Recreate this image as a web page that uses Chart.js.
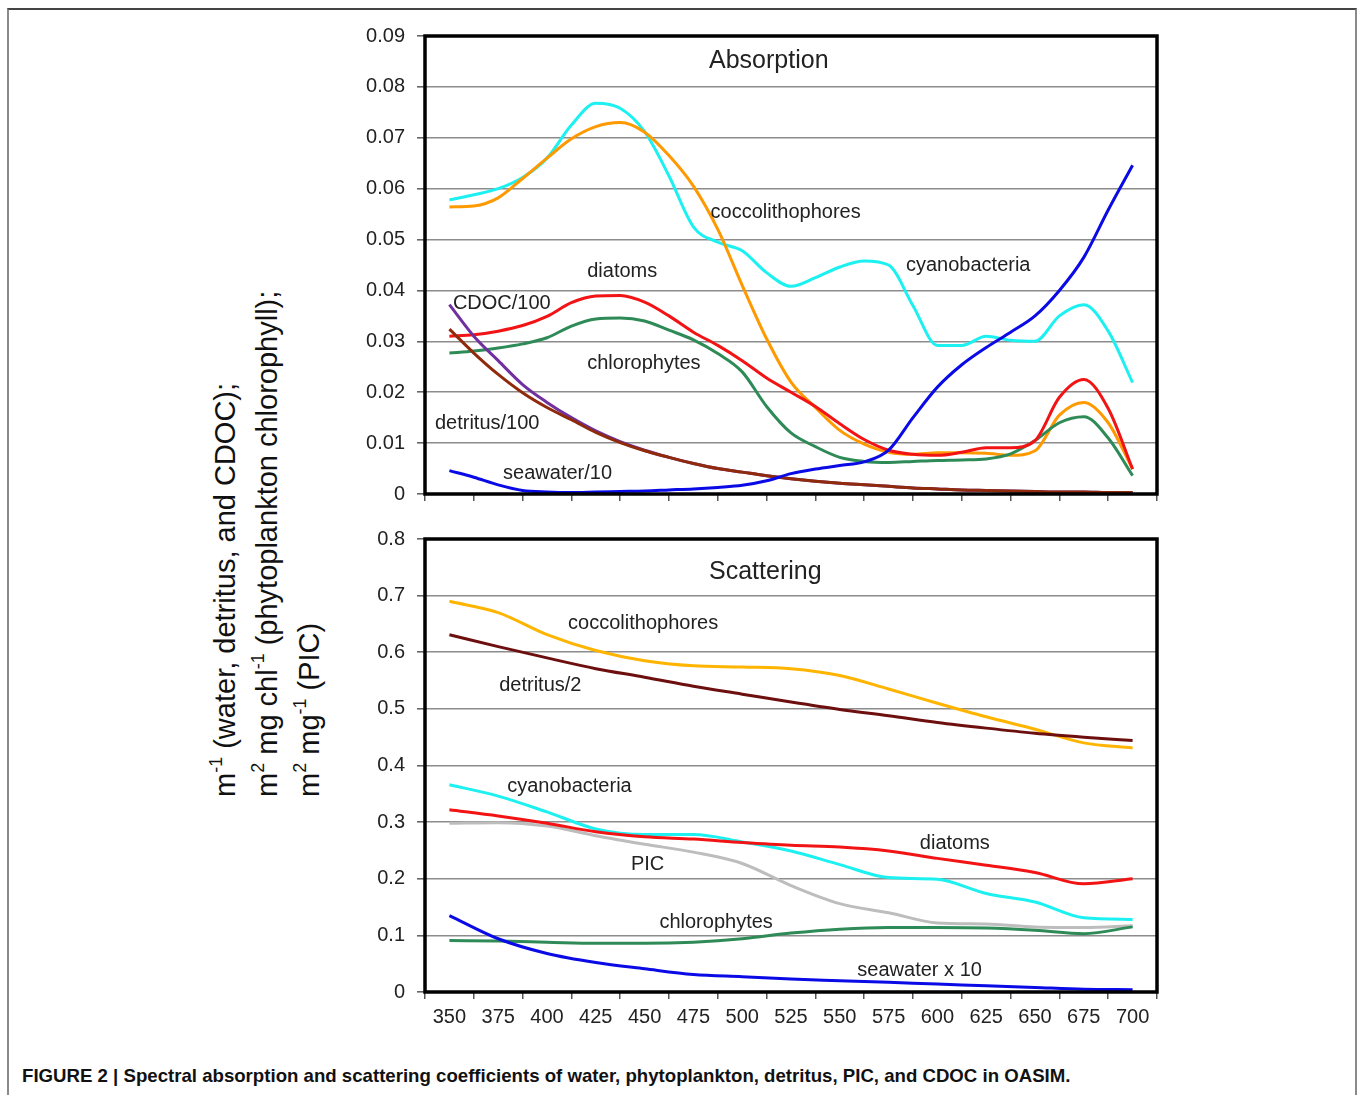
<!DOCTYPE html>
<html>
<head>
<meta charset="utf-8">
<script src="https://cdn.jsdelivr.net/npm/chart.js@4.4.1/dist/chart.umd.min.js"></script>
<style>
  body { margin: 0; background: #fff; font-family: "Liberation Sans", Arial, sans-serif; }
  #frame { position: absolute; left: 7px; top: 8px; width: 1346px; height: 1200px;
           border-top: 2px solid #444; border-left: 2px solid #8a8a8a; border-right: 2px solid #8a8a8a; }
  canvas { position: absolute; }
  #ytitle { position: absolute; left: 206px; top: 797px; transform: rotate(-90deg); transform-origin: left top;
            white-space: nowrap; font-size: 29px; line-height: 38px; color: #111; }
  #ytitle sup { font-size: 62%; vertical-align: baseline; position: relative; top: -0.75em; }
  #caption { position: absolute; left: 22px; top: 1065px; white-space: nowrap; transform-origin: left top;
             font-family: "Liberation Sans", Arial, sans-serif;
             font-weight: bold; font-size: 19px; color: #111; }
</style>
</head>
<body>
<div id="frame"></div>
<canvas id="absCanvas" width="840" height="508" style="left:340px;top:12px"></canvas>
<canvas id="scatCanvas" width="840" height="545" style="left:340px;top:515px"></canvas>
<div id="ytitle">m<sup>-1</sup> (water, detritus, and CDOC);<br>m<sup>2</sup> mg chl<sup>-1</sup> (phytoplankton chlorophyll);<br>m<sup>2</sup> mg<sup>-1</sup> (PIC)</div>
<div id="caption">FIGURE 2 | Spectral absorption and scattering coefficients of water, phytoplankton, detritus, PIC, and CDOC in OASIM.</div>
<script>
// wavelengths (nm)
const waveTicks = ["350", "375", "400", "425", "450", "475", "500", "525", "550", "575", "600", "625", "650", "675", "700"];
const waveAbs = [350, 362.5, 375, 387.5, 400, 412.5, 425, 437.5, 450, 462.5, 475, 487.5, 500, 512.5, 525, 537.5,
                 550, 562.5, 575, 587.5, 600, 612.5, 625, 637.5, 650, 662.5, 675, 687.5, 700];
const waveScat = [350, 375, 400, 425, 450, 475, 500, 525, 550, 575, 600, 625, 650, 675, 700];

// absorption
const absCyano = [0.0578, 0.0588, 0.0600, 0.0622, 0.0660, 0.0725, 0.0768, 0.0758, 0.0712, 0.0625, 0.0525, 0.0495, 0.0478, 0.0435, 0.0408,
                  0.0425, 0.0446, 0.0458, 0.0450, 0.0370, 0.0292, 0.0292, 0.0310, 0.0302, 0.0300, 0.0350, 0.0372, 0.0320, 0.0219];
const absCocco = [0.0564, 0.0566, 0.0582, 0.0620, 0.0660, 0.0698, 0.0722, 0.0730, 0.0711, 0.0665, 0.0605, 0.0520, 0.0410, 0.0305, 0.0220,
                  0.0170, 0.0125, 0.0098, 0.0082, 0.0078, 0.0081, 0.0081, 0.0080, 0.0076, 0.0085, 0.0155, 0.0180, 0.0140, 0.0049];
const absDiatom = [0.0310, 0.0313, 0.0320, 0.0331, 0.0349, 0.0376, 0.0389, 0.0390, 0.0377, 0.0350, 0.0318, 0.0292, 0.0262, 0.0228, 0.0200,
                   0.0172, 0.0138, 0.0107, 0.0086, 0.0078, 0.0076, 0.0082, 0.0091, 0.0091, 0.0105, 0.0190, 0.0225, 0.0168, 0.0049];
const absChloro = [0.0277, 0.0281, 0.0287, 0.0295, 0.0307, 0.0330, 0.0344, 0.0346, 0.0340, 0.0322, 0.0303, 0.0276, 0.0240, 0.0172, 0.0120,
                   0.0093, 0.0072, 0.0064, 0.0062, 0.0064, 0.0066, 0.0067, 0.0069, 0.0079, 0.0105, 0.0140, 0.0152, 0.0110, 0.0036];
const absSeawater = [0.0046, 0.0033, 0.0018, 0.0007, 0.0004, 0.0003, 0.0004, 0.0005, 0.0006, 0.0008, 0.0010, 0.0013, 0.0017, 0.0026, 0.0040,
                     0.0049, 0.0056, 0.0063, 0.0086, 0.0150, 0.0210, 0.0254, 0.0288, 0.0318, 0.0350, 0.0400, 0.0465, 0.0558, 0.0646];
const absDetritus = [0.0324, 0.0277, 0.0235, 0.0199, 0.0170, 0.0146, 0.0121, 0.0101, 0.0085, 0.0072, 0.0060, 0.0050, 0.0043, 0.0036, 0.0030,
                     0.0025, 0.0021, 0.0018, 0.0015, 0.0012, 0.0010, 0.0008, 0.0007, 0.0006, 0.0005, 0.0004, 0.0004, 0.0003, 0.0003];
const absCdoc = [0.0372, 0.0310, 0.0262, 0.0215, 0.0180, 0.0150, 0.0124, 0.0103, 0.0086, 0.0072, 0.0060, 0.0050, 0.0043, 0.0036, 0.0030,
                 0.0025, 0.0021, 0.0018, 0.0015, 0.0012, 0.0010, 0.0008, 0.0007, 0.0006, 0.0005, 0.0004, 0.0004, 0.0003, 0.0003];

// scattering
const scatCocco = [0.690, 0.670, 0.631, 0.603, 0.585, 0.576, 0.574, 0.571, 0.559, 0.535, 0.510, 0.486, 0.464, 0.440, 0.431];
const scatDetritus = [0.631, 0.610, 0.590, 0.571, 0.556, 0.540, 0.526, 0.512, 0.499, 0.488, 0.476, 0.466, 0.457, 0.450, 0.444];
const scatCyano = [0.366, 0.346, 0.318, 0.288, 0.278, 0.278, 0.265, 0.249, 0.225, 0.202, 0.199, 0.174, 0.159, 0.131, 0.128];
const scatDiatom = [0.322, 0.311, 0.298, 0.283, 0.274, 0.270, 0.264, 0.259, 0.256, 0.249, 0.236, 0.224, 0.211, 0.191, 0.200];
const scatPic = [0.298, 0.299, 0.293, 0.276, 0.261, 0.247, 0.227, 0.188, 0.156, 0.140, 0.122, 0.120, 0.115, 0.114, 0.117];
const scatChloro = [0.091, 0.090, 0.088, 0.086, 0.086, 0.088, 0.094, 0.104, 0.111, 0.114, 0.114, 0.113, 0.109, 0.103, 0.115];
const scatSeawater = [0.135, 0.094, 0.068, 0.052, 0.041, 0.031, 0.027, 0.023, 0.020, 0.017, 0.014, 0.011, 0.008, 0.005, 0.004];

// in-plot text: [text, wavelength at left edge, value at middle, font size]
const absNotes = [
    ["Absorption", 483, 0.0851, 25],
    ["coccolithophores", 483.8, 0.0553, 20],
    ["cyanobacteria", 583.9, 0.0449, 20],
    ["diatoms", 420.6, 0.0437, 20],
    ["CDOC/100", 351.8, 0.0375, 20],
    ["chlorophytes", 420.6, 0.0257, 20],
    ["detritus/100", 342.6, 0.0139, 20],
    ["seawater/10", 377.5, 0.0041, 20],
];
const scatNotes = [
    ["Scattering", 483, 0.7424, 25],
    ["coccolithophores", 410.8, 0.6506, 20],
    ["detritus/2", 375.5, 0.541, 20],
    ["cyanobacteria", 379.6, 0.363, 20],
    ["diatoms", 591, 0.262, 20],
    ["PIC", 443, 0.2253, 20],
    ["chlorophytes", 457.6, 0.123, 20],
    ["seawater x 10", 559, 0.038, 20],
];

const FONT = '"Liberation Sans", Arial, sans-serif';
Chart.defaults.font.family = FONT;
Chart.defaults.color = "#222";

function pts(xs, ys) {
    return ys.map((v, i) => ({ x: xs[i], y: v }));
}

function line(data, color) {
    return {
        data: data,
        xAxisID: "xl",
        borderColor: color,
        borderWidth: 3,
        pointRadius: 0,
        fill: false,
        cubicInterpolationMode: "monotone",
    };
}

const notesPlugin = {
    id: "notes",
    afterDraw(chart, args, opts) {
        const ctx = chart.ctx;
        const a = chart.chartArea;
        ctx.save();
        ctx.fillStyle = "#222";
        ctx.textAlign = "left";
        ctx.textBaseline = "middle";
        opts.items.forEach(n => {
            ctx.font = n[3] + "px " + FONT;
            ctx.fillText(n[0], chart.scales.xl.getPixelForValue(n[1]), chart.scales.y.getPixelForValue(n[2]));
        });
        ctx.strokeStyle = "#000";
        ctx.lineWidth = 3.5;
        ctx.strokeRect(a.left, a.top, a.right - a.left, a.bottom - a.top);
        ctx.restore();
    }
};

function makeChart(id, datasets, yMax, yStep, showX, notes, xHeight) {
    return new Chart(document.getElementById(id), {
        type: "line",
        data: { datasets: datasets },
        plugins: [notesPlugin],
        options: {
            responsive: false,
            animation: false,
            layout: { padding: { top: 0, right: 23, left: 0, bottom: 0 } },
            plugins: { legend: { display: false }, tooltip: { enabled: false }, notes: { items: notes } },
            scales: {
                x: {
                    type: "category",
                    labels: waveTicks,
                    offset: true,
                    border: { display: false },
                    grid: { offset: true, drawOnChartArea: false, tickLength: 7, tickColor: "#555", lineWidth: 1.5 },
                    ticks: {
                        display: showX, padding: 6, color: "#222", font: { size: 20 },
                        maxRotation: 0, autoSkip: false
                    },
                    afterFit(s) { s.height = xHeight; }
                },
                xl: { type: "linear", display: false, min: 337.5, max: 712.5 },
                y: {
                    min: 0, max: yMax,
                    border: { display: false },
                    grid: { color: "#8c8c8c", lineWidth: 1.6, tickLength: 8, tickColor: "#666" },
                    ticks: {
                        stepSize: yStep, padding: 12, color: "#222", font: { size: 20 },
                        callback: v => (Math.abs(v) < 1e-9 ? "0" : +v.toFixed(2) + "")
                    },
                    afterFit(s) { s.width = 85; }
                }
            }
        }
    });
}

makeChart("absCanvas", [
    line(pts(waveAbs, absSeawater), "#0a0ae6"),
    line(pts(waveAbs, absDetritus), "#8f2a0c"),
    line(pts(waveAbs, absCdoc), "#7030a0"),
    line(pts(waveAbs, absDiatom), "#f21414"),
    line(pts(waveAbs, absChloro), "#2e8b57"),
    line(pts(waveAbs, absCocco), "#ff9900"),
    line(pts(waveAbs, absCyano), "#1cf0f0"),
], 0.09, 0.01, false, absNotes, 26);

makeChart("scatCanvas", [
    line(pts(waveScat, scatSeawater), "#0a0ae6"),
    line(pts(waveScat, scatDetritus), "#6e0f0f"),
    line(pts(waveScat, scatDiatom), "#f21414"),
    line(pts(waveScat, scatCyano), "#1cf0f0"),
    line(pts(waveScat, scatChloro), "#2e8b57"),
    line(pts(waveScat, scatPic), "#bdbdbd"),
    line(pts(waveScat, scatCocco), "#ffb400"),
], 0.8, 0.1, true, scatNotes, 68);

const cap = document.getElementById("caption");
cap.style.transform = "scaleX(" + (1048 / cap.offsetWidth) + ")";
</script>
</body>
</html>
